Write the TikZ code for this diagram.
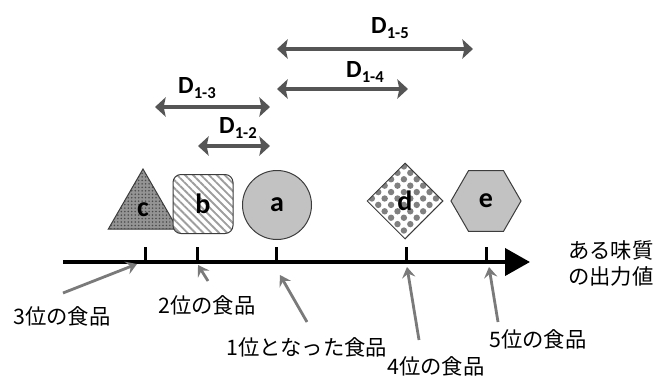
\documentclass[tikz,border=0pt]{standalone}
\usepackage{fontspec}
\setmainfont{Carlito}
\newfontfamily\jp{Noto Sans CJK JP}
\usetikzlibrary{arrows.meta,shapes.geometric,patterns.meta}
\newdimen\px \px=0.75pt
\definecolor{dimgray}{HTML}{555555}
\definecolor{ptrgray}{HTML}{7A7A7A}
\definecolor{shapeline}{HTML}{3C3C3C}
\definecolor{shapefill}{HTML}{C2C2C2}
\begin{document}
\begin{tikzpicture}[x=0.75pt,y=-0.75pt,
  shapebox/.style={draw=shapeline,line width=1\px,inner sep=0pt,
    font=\bfseries\fontsize{21}{22}\selectfont},
  dimarrow/.style={draw=dimgray,line width=3.8\px,
    {Stealth[length=8pt,width=14.5pt,inset=1.5pt]}-{Stealth[length=8pt,width=14.5pt,inset=1.5pt]}},
  dimlabel/.style={font=\bfseries\fontsize{18.5}{20}\selectfont,inner sep=0pt},
  pointer/.style={draw=ptrgray,line width=2.8\px,-{Stealth[length=8pt,width=10pt,inset=3pt]}},
  rank/.style={font=\jp\fontsize{16}{20}\selectfont,inner sep=0pt},
  tick/.style={draw=black,line width=3\px}]
\useasboundingbox (0,0) rectangle (656,378);

% axis
\coordinate (ax0) at (63,262);
\coordinate (ax1) at (530,262);
\draw[line width=4\px,-{Triangle[length=18.75pt,width=20.25pt]}] (ax0) -- (ax1);
\node[rank,anchor=north west,align=left] (axlabel) at (568,240)
  {ある味質\\の出力値};

% ticks
\foreach \n/\x in {c/145,b/197,a/276,d/406,e/486}{
  \coordinate (t\n) at (\x,262);
  \draw[tick] (\x,247) -- (t\n);
}

% food shapes
\node[shapebox,regular polygon,regular polygon sides=3,minimum size=80\px,
  preaction={fill=black!42},pattern={Dots[distance=2.6pt,radius=0.65pt]},
  pattern color=black!70] (c) at (143,209) {};
\node at (143,210) [font=\bfseries\fontsize{21}{22}\selectfont] {c};
\node[shapebox,rectangle,rounded corners=8\px,minimum width=60\px,minimum height=59\px,
  preaction={fill=white},pattern={Lines[angle=-45,distance=4.2pt,line width=1.4pt]},
  pattern color=black!38] (b) at (203,204) {b};
\node[shapebox,circle,minimum size=69\px,fill=shapefill] (a) at (277,205) {a};
\node[shapebox,diamond,minimum width=76\px,minimum height=76\px,
  preaction={fill=white},pattern={Dots[angle=45,distance=6.8pt,radius=2.4pt]},
  pattern color=black!50] (d) at (405,201) {d};
\node[shapebox,regular polygon,regular polygon sides=6,minimum size=70\px,
  fill=shapefill] (e) at (486,201) {e};

% distance markers
\coordinate (d5l) at (277,49);  \coordinate (d5r) at (473,49);
\coordinate (d4l) at (277,89);  \coordinate (d4r) at (408,89);
\coordinate (d3l) at (155,107); \coordinate (d3r) at (270,107);
\coordinate (d2l) at (198,146); \coordinate (d2r) at (270,146);
\draw[dimarrow] (d5l) -- (d5r);
\draw[dimarrow] (d4l) -- (d4r);
\draw[dimarrow] (d3l) -- (d3r);
\draw[dimarrow] (d2l) -- (d2r);
\newcommand\dsub[1]{D\raisebox{-0.45ex}{\fontsize{12.5}{12.5}\selectfont #1}}
\node[dimlabel] (l5) at (390,28) {\dsub{1-5}};
\node[dimlabel] (l4) at (365,72) {\dsub{1-4}};
\node[dimlabel] (l3) at (197,88) {\dsub{1-3}};
\node[dimlabel] (l2) at (238,128) {\dsub{1-2}};

% rank labels with pointers
\node[rank] (r3) at (62,316) {3位の食品};
\node[rank] (r2) at (207,305) {2位の食品};
\node[rank] (r1) at (307,347) {1位となった食品};
\node[rank] (r4) at (436,366) {4位の食品};
\node[rank] (r5) at (538,339) {5位の食品};

\coordinate (p3s) at (63,293);  \coordinate (p3e) at (137,264);
\coordinate (p2s) at (208,281); \coordinate (p2e) at (198,265);
\coordinate (p1s) at (307,322); \coordinate (p1e) at (280,275);
\coordinate (p4s) at (419,340); \coordinate (p4e) at (407,267);
\coordinate (p5s) at (498,322); \coordinate (p5e) at (489,267);
\draw[pointer] (p3s) -- (p3e);
\draw[pointer] (p2s) -- (p2e);
\draw[pointer] (p1s) -- (p1e);
\draw[pointer] (p4s) -- (p4e);
\draw[pointer] (p5s) -- (p5e);
\end{tikzpicture}
\end{document}
